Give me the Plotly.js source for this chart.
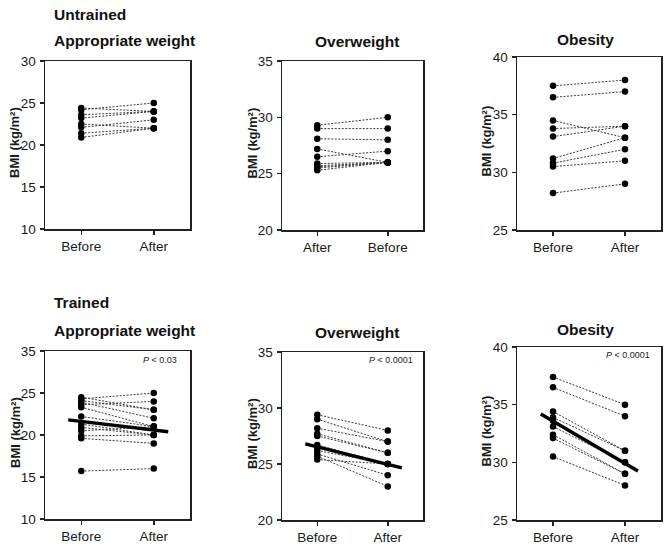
<!DOCTYPE html>
<html>
<head>
<meta charset="utf-8">
<script src="https://cdn.plot.ly/plotly-3.0.1.min.js"></script>
<style>html,body{margin:0;padding:0;background:#fff;}#chart{width:670px;height:546px;}</style>
</head>
<body>
<div id="chart"></div>
<script>
// ---- Data ----
// Untrained, appropriate weight
const uaLabels = ['Before', 'After'];
const uaLeft  = [24.4, 24.2, 23.6, 23.2, 22.5, 22.1, 21.4, 20.9];
const uaRight = [24, 25, 24, 24, 22, 23, 22, 22];
// Untrained, overweight (labels shown as After / Before in the original)
const uoLabels = ['After', 'Before'];
const uoLeft  = [29.3, 29.0, 28.1, 27.2, 26.5, 25.9, 25.7, 25.6, 25.5, 25.3];
const uoRight = [30, 29, 28, 26, 27, 26, 26, 26, 26, 26];
// Untrained, obesity
const ubLabels = ['Before', 'After'];
const ubLeft  = [37.5, 36.5, 34.5, 33.8, 33.1, 31.2, 30.8, 30.5, 28.2];
const ubRight = [38, 37, 33, 34, 34, 33, 32, 31, 29];
// Trained, appropriate weight
const taLabels = ['Before', 'After'];
const taLeft  = [24.5, 24.3, 24.1, 23.9, 23.6, 23.3, 22.2, 21.3, 20.9, 20.5, 19.9, 19.6, 15.7];
const taRight = [23, 25, 23, 22, 24, 21, 21, 20, 20, 21, 20, 19, 16];
const taTrendX = [-0.18, 1.2];
const taTrendY = [21.8, 20.4];
// Trained, overweight
const toLabels = ['Before', 'After'];
const toLeft  = [29.4, 29.0, 28.2, 27.7, 27.5, 26.7, 26.5, 26.2, 25.9, 25.7, 25.4];
const toRight = [28, 27, 27, 26, 26, 25, 25, 25, 24, 23, 25];
const toTrendX = [-0.17, 1.2];
const toTrendY = [26.8, 24.65];
// Trained, obesity
const tbLabels = ['Before', 'After'];
const tbLeft  = [37.4, 36.5, 34.4, 33.9, 33.6, 33.1, 32.4, 32.1, 30.5];
const tbRight = [35, 34, 31, 31, 30, 30, 29, 29, 28];
const tbTrendX = [-0.17, 1.18];
const tbTrendY = [34.2, 29.25];

const pValues = ['<i>P</i> < 0.03', '<i>P</i> < 0.0001', '<i>P</i> < 0.0001'];
const panelTitles = ['Appropriate weight', 'Overweight', 'Obesity'];
const rowTitles = ['Untrained', 'Trained'];
const yTitle = 'BMI (kg/m²)';

// ---- Layout geometry (pixels) ----
const W = 670, H = 546;
const FONT = 'Liberation Sans, Arial, Helvetica, sans-serif';
const px = v => v / W;
const py = v => 1 - v / H;

const panels = [
  {labels: uaLabels, left: uaLeft, right: uaRight, range: [10, 30], ticks: [10,15,20,25,30], tickText: ['10','15','20','25','30'], box: [45,190,61,229]},
  {labels: uoLabels, left: uoLeft, right: uoRight, range: [20, 35], ticks: [20,25,30,35], tickText: ['20','25','30','35'], box: [282,423,61,230]},
  {labels: ubLabels, left: ubLeft, right: ubRight, range: [25, 40], ticks: [25,30,35,40], tickText: ['25','30','35','40'], box: [517,661,57,230]},
  {labels: taLabels, left: taLeft, right: taRight, range: [10, 30], ticks: [10,15,20,25,30], tickText: ['10','15','20','25','35'], box: [45,190,351,519], trendX: taTrendX, trendY: taTrendY},
  {labels: toLabels, left: toLeft, right: toRight, range: [20, 35], ticks: [20,25,30,35], tickText: ['20','25','30','35'], box: [282,423,352,520], trendX: toTrendX, trendY: toTrendY},
  {labels: tbLabels, left: tbLeft, right: tbRight, range: [25, 40], ticks: [25,30,35,40], tickText: ['25','30','35','40'], box: [517,661,347,520], trendX: tbTrendX, trendY: tbTrendY}
];

const traces = [];
const layout = {
  width: W, height: H,
  margin: {l: 0, r: 0, t: 0, b: 0},
  paper_bgcolor: '#fff', plot_bgcolor: '#fff',
  showlegend: false,
  font: {family: FONT, color: '#1a1a1a', size: 13},
  annotations: []
};

panels.forEach((p, i) => {
  const n = i + 1;
  const xa = n === 1 ? 'x' : 'x' + n;
  const ya = n === 1 ? 'y' : 'y' + n;
  const xs = [], ys = [];
  p.left.forEach((v, k) => { xs.push(0, 1, null); ys.push(v, p.right[k], null); });
  traces.push({
    x: xs, y: ys, xaxis: xa, yaxis: ya, type: 'scatter', mode: 'lines+markers',
    line: {color: '#3a3a3a', width: 1, dash: '2px,1.5px'},
    marker: {color: '#000', size: 6.5},
    cliponaxis: false, hoverinfo: 'skip'
  });
  if (p.trendX) {
    traces.push({
      x: p.trendX, y: p.trendY, xaxis: xa, yaxis: ya, type: 'scatter', mode: 'lines',
      line: {color: '#000', width: 3.5}, cliponaxis: false, hoverinfo: 'skip'
    });
  }
  const [x0, x1, y0, y1] = p.box;
  const axCommon = {showline: true, mirror: true, linecolor: '#222', linewidth: 1.5,
    showgrid: false, zeroline: false, ticks: 'outside', ticklen: 4, tickwidth: 1.5, tickcolor: '#222',
    tickfont: {family: FONT, size: 13.5, color: '#1a1a1a'}, fixedrange: true};
  layout['xaxis' + (n === 1 ? '' : n)] = Object.assign({}, axCommon, {
    domain: [px(x0), px(x1)], anchor: ya, range: [-0.5, 1.5],
    tickmode: 'array', tickvals: [0, 1], ticktext: p.labels
  });
  layout['yaxis' + (n === 1 ? '' : n)] = Object.assign({}, axCommon, {
    domain: [py(y1), py(y0)], anchor: xa, range: p.range,
    tickmode: 'array', tickvals: p.ticks, ticktext: p.tickText, ticklabelstandoff: 1
  });
  // y-axis title
  const yTitleX = [15, 252, 486][i % 3];
  layout.annotations.push({
    xref: 'paper', yref: 'paper', x: px(yTitleX), y: py((y0 + y1) / 2 - 2),
    text: '<b>' + yTitle + '</b>', textangle: -90, showarrow: false,
    xanchor: 'center', yanchor: 'middle', font: {family: FONT, size: 13, color: '#1a1a1a'}
  });
  // panel title
  const row = Math.floor(i / 3);
  const col = i % 3;
  const titleY = row === 0 ? [41, 42, 40][col] : [330, 332, 329][col];
  const titleX = [52, 357, 585][col];
  layout.annotations.push({
    xref: 'paper', yref: 'paper', x: px(titleX), y: py(titleY),
    text: '<b>' + panelTitles[col] + '</b>', showarrow: false,
    xanchor: col === 0 ? 'left' : 'center', yanchor: 'middle',
    font: {family: FONT, size: 15.5, color: '#111'}
  });
  // p-value
  if (row === 1) {
    const pRight = [179, 415, 652][col];
    const pY = [359.5, 360, 355][col];
    layout.annotations.push({
      xref: 'paper', yref: 'paper', x: px(pRight), y: py(pY),
      text: pValues[col], showarrow: false, xanchor: 'right', yanchor: 'middle',
      font: {family: FONT, size: 9, color: '#222'}
    });
  }
});

// row titles
layout.annotations.push({xref: 'paper', yref: 'paper', x: px(52), y: py(14), text: '<b>' + rowTitles[0] + '</b>',
  showarrow: false, xanchor: 'left', yanchor: 'middle', font: {family: FONT, size: 15.5, color: '#111'}});
layout.annotations.push({xref: 'paper', yref: 'paper', x: px(52), y: py(302), text: '<b>' + rowTitles[1] + '</b>',
  showarrow: false, xanchor: 'left', yanchor: 'middle', font: {family: FONT, size: 15.5, color: '#111'}});

Plotly.newPlot('chart', traces, layout, {displayModeBar: false, staticPlot: true});
</script>
</body>
</html>
